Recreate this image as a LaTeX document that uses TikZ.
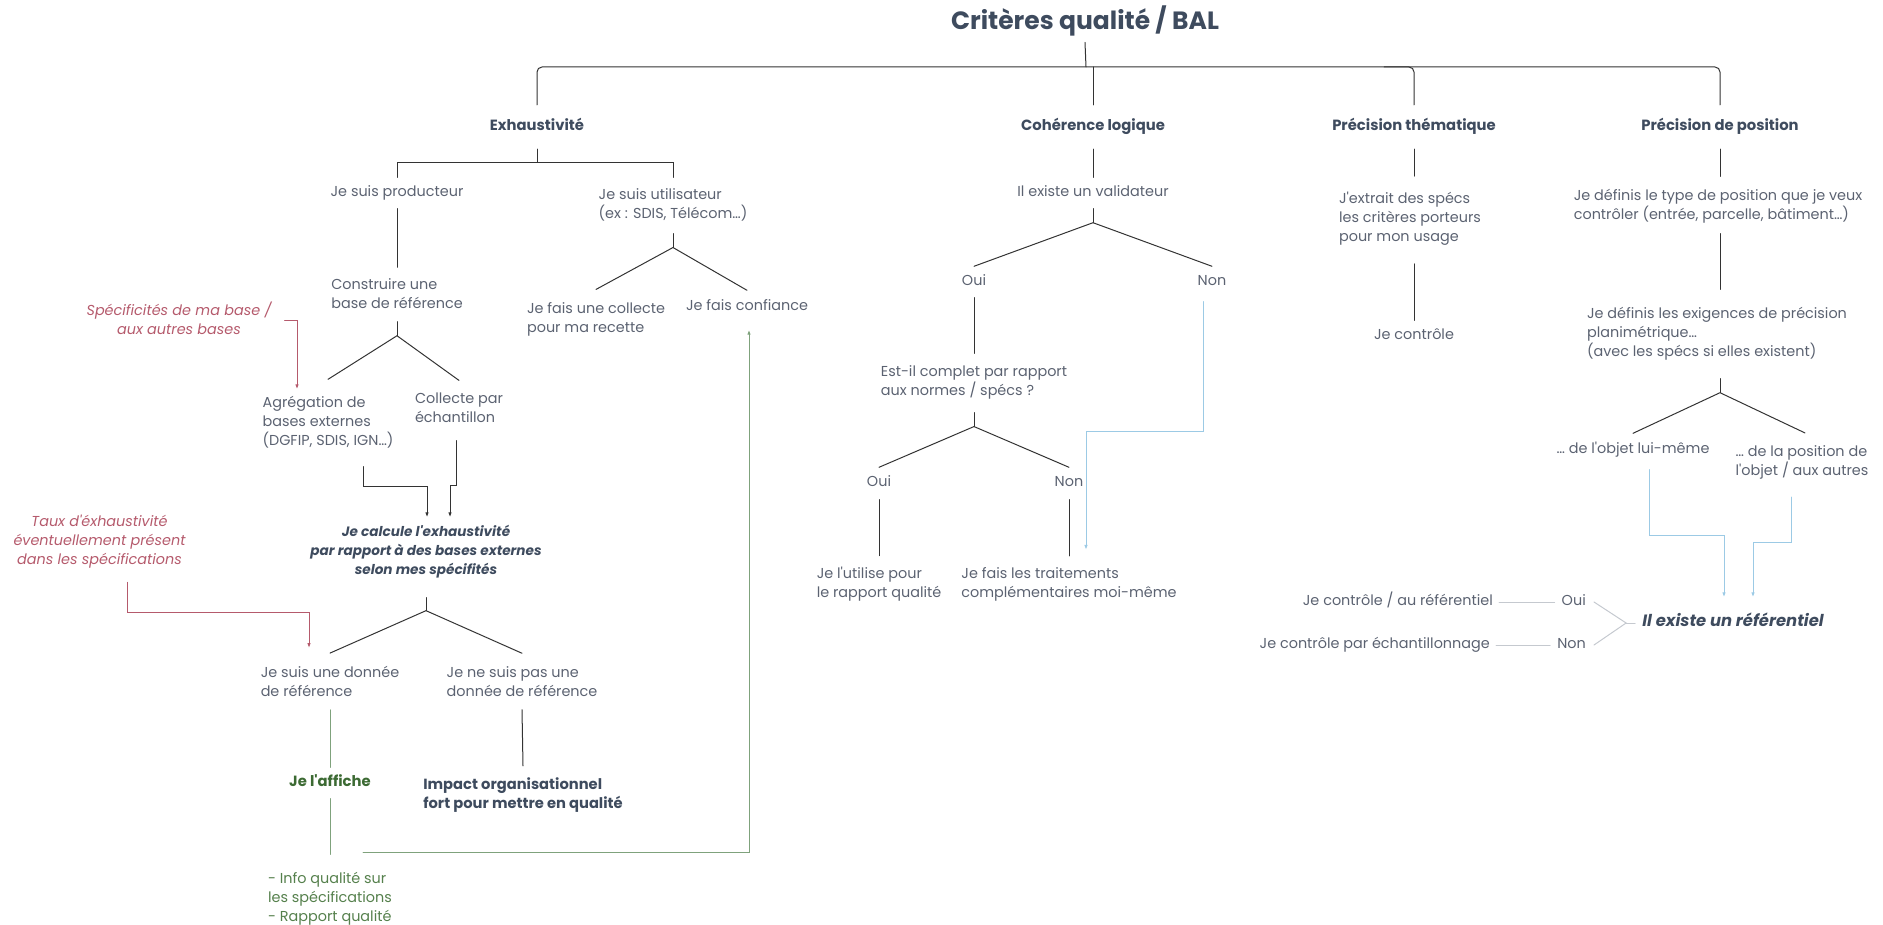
\documentclass[tikz,border=0pt]{standalone}
\usepackage{fontspec}
\setmainfont{Poppins}[Ligatures=TeXOff]
\usetikzlibrary{arrows.meta}
\definecolor{ink}{HTML}{5B6271}
\definecolor{slate}{HTML}{3E4B5E}
\definecolor{wine}{HTML}{B55A6C}
\definecolor{leaf}{HTML}{55804C}
\definecolor{leafdark}{HTML}{3C6A33}
\definecolor{leafline}{HTML}{7FA27C}
\definecolor{sky}{HTML}{9CCAE5}
\definecolor{mist}{HTML}{C5C9CF}
\begin{document}
\begin{tikzpicture}[
    x=1pt, y=-1pt,
    line cap=round,
    every node/.style={inner sep=0pt, text=ink, font=\fontsize{14.4}{19}\selectfont},
    one/.style={text height=10pt, text depth=3pt},
    head/.style={text height=11pt, text depth=3pt, text=slate,
      font=\fontsize{14.8}{19}\selectfont\bfseries},
    note/.style={align=center, text=wine, font=\fontsize{14.4}{19}\selectfont\itshape},
    tree/.style={draw=black!80, line width=1pt},
    redline/.style={draw=wine, line width=1pt},
    greenline/.style={draw=leafline, line width=1pt},
    blueline/.style={draw=sky, line width=1pt},
    greyline/.style={draw=mist, line width=1pt},
    arr/.style={-{Latex[length=5pt,width=3.5pt]}}
]
  \useasboundingbox (0,0) rectangle (1883,925);

  % titre et criteres
  \node[text=slate, font=\fontsize{25}{28}\selectfont\bfseries] (title) at (1085,21) {Critères qualité / BAL};
  \node[head] (exh) at (537,127) {Exhaustivité};
  \node[head] (coh) at (1093,127) {Cohérence logique};
  \node[head] (them) at (1414,127) {Précision thématique};
  \node[head] (pos) at (1720,127) {Précision de position};

  \coordinate (bar) at (1086,67);
  \draw[tree] ([yshift=-6pt]title.south) -- (bar);
  \draw[tree, rounded corners=5pt] 
    ([yshift=15pt]exh.north) |- (bar) 
    -| ([yshift=15pt]pos.north)
  ;
  \draw[tree] (coh.north |- bar) -- ([yshift=15pt]coh.north);
  \draw[tree, rounded corners=5pt] ([xshift=-30pt]them.north |- bar) -| ([yshift=15pt]them.north);

  % exhaustivite
  \node[one] (prod) at (397,193) {Je suis producteur};
  \node[align=left] (util) at (673,205) {Je suis utilisateur\\(ex : SDIS, Télécom…)};
  \node[align=left] (constr) at (397,293.5) {Construire une\\base de référence};
  \node[align=left] (coll2) at (596,319.5) {Je fais une collecte\\pour ma recette};
  \node[one] (conf) at (747,307) {Je fais confiance};
  \node[align=left] (agg) at (328,422.5) {Agrégation de\\bases externes\\(DGFIP, SDIS, IGN…)};
  \node[align=left] (coll) at (459,407.5) {Collecte par\\échantillon};
  \node[align=center, text=slate, font=\fontsize{13.6}{19}\selectfont\bfseries\itshape] (calc) at (426,552)
    {Je calcule l'exhaustivité\\par rapport à des bases externes\\selon mes spécifités};
  \node[align=left] (don) at (330,681.5) {Je suis une donnée\\de référence};
  \node[align=left] (nodon) at (522,681.5) {Je ne suis pas une\\donnée de référence};
  \node[one, text=leafdark, font=\fontsize{14.8}{19}\selectfont\bfseries] (aff) at (330,783) {Je l'affiche};
  \node[align=left, text=slate, font=\fontsize{14.7}{19}\selectfont\bfseries] (imp) at (523,795.5)
    {Impact organisationnel\\fort pour mettre en qualité};
  \node[align=left, text=leaf] (info) at (330,899) {- Info qualité sur\\les spécifications\\- Rapport qualité};
  \node[note] (spec) at (179,318.5) {Spécificités de ma base /\\aux autres bases};
  \node[note] (taux) at (99.5,541.5) {Taux d'éxhaustivité\\éventuellement présent\\dans les spécifications};

  \draw[tree] ([yshift=-15pt]exh.south) -- ++(0,13) coordinate (e1);
  \draw[tree] ([yshift=9pt]prod.north) |- (e1) -| ([yshift=11pt]util.north);
  \draw[tree] ([yshift=-9pt]prod.south) -- ([yshift=11pt]constr.north);
  \draw[tree] ([yshift=-13pt]constr.south) -- ++(0,14) coordinate (c1);
  \draw[tree] ([yshift=17pt]agg.north) -- (c1) -- ([yshift=12pt]coll.north);
  \draw[tree] ([yshift=-12pt]util.south) -- ++(0,14) coordinate (u1);
  \draw[tree] ([yshift=13pt]coll2.north) -- (u1) -- ([yshift=10pt]conf.north);
  \draw[tree, arr] ([xshift=35pt,yshift=-18pt]agg.south) -- ++(0,20) -| ([xshift=1pt,yshift=8pt]calc.north);
  \draw[tree, arr] ([xshift=-3pt,yshift=-18pt]coll.south) -- ++(0,45) -| ([xshift=24pt,yshift=8pt]calc.north);
  \draw[tree] ([yshift=-19pt]calc.south) -- ++(0,13) coordinate (k1);
  \draw[tree] ([yshift=13pt]don.north) -- (k1) -- ([yshift=13pt]nodon.north);
  \draw[greenline] ([yshift=-13pt]don.south) -- ([yshift=9pt]aff.north);
  \draw[tree] ([yshift=-13pt]nodon.south) -- ([yshift=12pt]imp.north);
  \draw[greenline] ([yshift=-9pt]aff.south) -- ([yshift=18pt]info.north);
  \draw[greenline, arr] ([xshift=33pt,yshift=20pt]info.north) -| ([xshift=2pt,yshift=-16pt]conf.south);
  \draw[redline, arr] ([xshift=13pt,yshift=-2pt]spec.east) -| ([xshift=-31pt,yshift=7pt]agg.north);
  \draw[redline, arr] ([xshift=28pt,yshift=-14pt]taux.south) -- ++(0,30) -| ([xshift=-21pt,yshift=18pt]don.north);

  % coherence logique
  \node[one] (valid) at (1093,193) {Il existe un validateur};
  \node[one] (oui1) at (974,282) {Oui};
  \node[one] (non1) at (1212,282) {Non};
  \node[align=left] (compl) at (974,382.5) {Est-il complet par rapport\\aux normes / spécs ?};
  \node[one] (oui2) at (879,483) {Oui};
  \node[one] (non2) at (1069,483) {Non};
  \node[align=left] (util2) at (879,584) {Je l'utilise pour\\le rapport qualité};
  \node[align=left] (trait) at (1069,584) {Je fais les traitements\\complémentaires moi-même};

  \draw[tree] ([yshift=-15pt]coh.south) -- ([yshift=9pt]valid.north);
  \draw[tree] ([yshift=-9pt]valid.south) -- ++(0,14) coordinate (v1);
  \draw[tree] ([yshift=9pt]oui1.north) -- (v1) -- ([yshift=9pt]non1.north);
  \draw[tree] ([yshift=-9pt]oui1.south) -- ([yshift=12pt]compl.north);
  \draw[tree] ([yshift=-13pt]compl.south) -- ++(0,14) coordinate (p1);
  \draw[tree] ([yshift=9pt]oui2.north) -- (p1) -- ([yshift=9pt]non2.north);
  \draw[tree] ([yshift=-10pt]oui2.south) -- ([yshift=11pt]util2.north);
  \draw[tree] ([yshift=-10pt]non2.south) -- ([yshift=11pt]trait.north);
  \draw[blueline, arr] ([xshift=-9pt,yshift=-13pt]non1.south) -- ++(0,130) -| ([xshift=17pt,yshift=17pt]trait.north);

  % precision thematique
  \node[align=left] (extr) at (1410,219) {J'extrait des spécs\\les critères porteurs\\pour mon usage};
  \node[one] (contr) at (1414,336) {Je contrôle};
  \draw[tree] ([yshift=-15pt]them.south) -- ([yshift=16pt]extr.north -| them.south);
  \draw[tree] ([yshift=-18pt]extr.south -| them.south) -- ([yshift=9pt]contr.north);

  % precision de position
  \node[align=left] (type) at (1718,206.5) {Je définis le type de position que je veux\\contrôler (entrée, parcelle, bâtiment…)};
  \node[align=left] (exig) at (1717,334) {Je définis les exigences de précision\\planimétrique…\\(avec les spécs si elles existent)};
  \node[one] (objet) at (1633,450) {… de l'objet lui-même};
  \node[align=left] (autres) at (1802,462) {… de la position de\\l'objet / aux autres};
  \node[one, text=slate, font=\fontsize{16.4}{19}\selectfont\bfseries\itshape] (ref) at (1733,623) {Il existe un référentiel};
  \node[one, anchor=east] (roui) at (1586,602) {Oui};
  \node[one, anchor=east] (rnon) at (1586,645) {Non};
  \node[one, anchor=east] (cref) at (1493,602) {Je contrôle / au référentiel};
  \node[one, anchor=east] (cech) at (1490,645) {Je contrôle par échantillonnage};

  \draw[tree] ([yshift=-15pt]pos.south) -- ([yshift=13pt]type.north -| pos.south);
  \draw[tree] ([yshift=-10pt]type.south -| pos.south) -- ([yshift=18pt]exig.north -| pos.south);
  \draw[tree] ([yshift=-18pt]exig.south -| pos.south) -- ++(0,14) coordinate (x1);
  \draw[tree] ([yshift=10pt]objet.north) -- (x1) -- ([xshift=3pt,yshift=12pt]autres.north);
  \draw[blueline, arr] ([xshift=16pt,yshift=-13pt]objet.south) -- ++(0,66) -| ([xshift=-9pt,yshift=19pt]ref.north);
  \draw[blueline, arr] ([xshift=-11pt,yshift=-18pt]autres.south) -- ++(0,45) -| ([xshift=20pt,yshift=19pt]ref.north);
  \draw[greyline] ([xshift=-7pt]ref.west) -- ++(-9,0) coordinate (r1);
  \draw[greyline] ([xshift=8pt]roui.east) -- (r1) -- ([xshift=8pt]rnon.east);
  \draw[greyline] ([xshift=-7pt]roui.west) -- ([xshift=6pt]cref.east);
  \draw[greyline] ([xshift=-7pt]rnon.west) -- ([xshift=6pt]cech.east);
\end{tikzpicture}
\end{document}
